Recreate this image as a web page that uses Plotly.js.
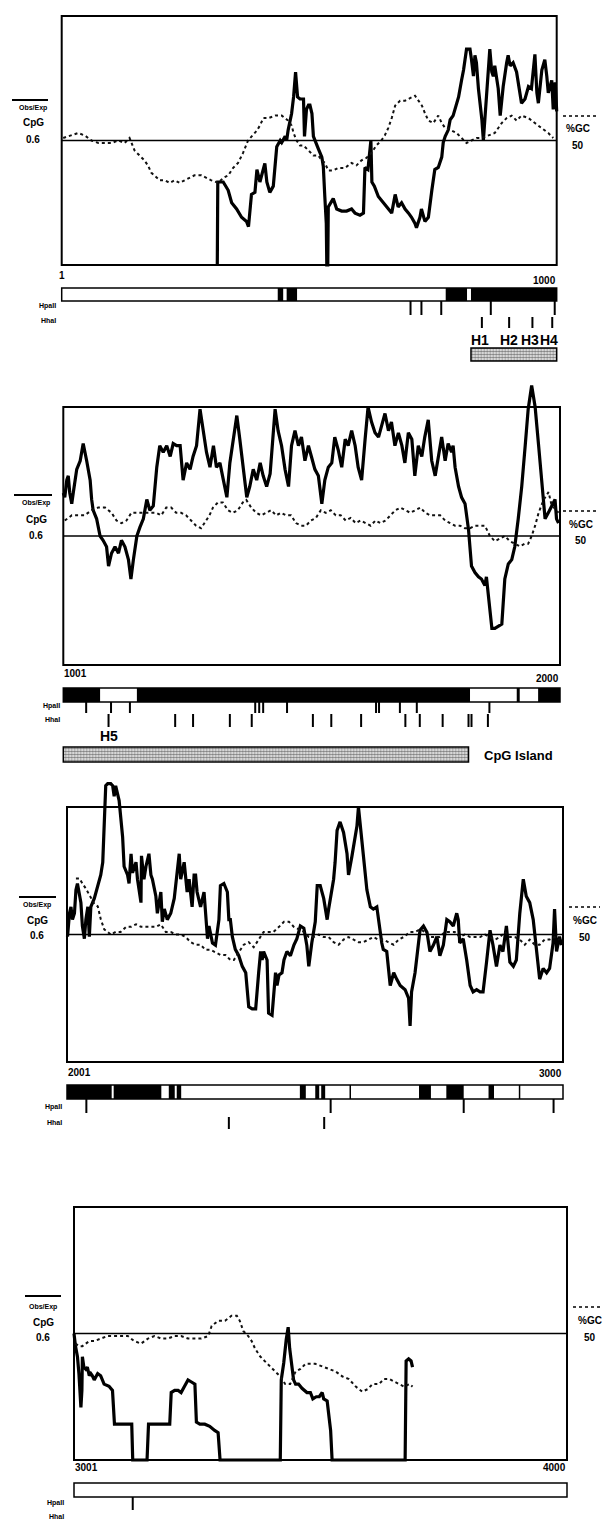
<!DOCTYPE html>
<html><head><meta charset="utf-8">
<script src="https://cdn.plot.ly/plotly-3.0.1.min.js"></script>
<style>html,body{margin:0;padding:0;background:#fff}#chart{width:604px;height:1520px}</style>
</head><body><div id="chart"></div>
<script>
// ---------------- DATA ----------------
// position ranges (bp) of the four panels
const panelStart = [1, 1001, 2001, 3001];
const panelEnd   = [1000, 2000, 3000, 4000];
const tickLeftText  = ['1', '1001', '2001', '3001'];
const tickRightText = ['1000', '2000', '3000', '4000'];

// Observed/Expected CpG  [position, ratio]
const cpg1 = [[315,0],[316,0.40],[327,0.40],[337,0.36],[344,0.30],[354,0.27],[364,0.23],[374,0.21],[378,0.185],[381,0.28],[384,0.34],[391,0.35],[395,0.46],[401,0.40],[408,0.47],[411,0.49],[415,0.40],[421,0.35],[428,0.38],[432,0.51],[435,0.57],[442,0.60],[445,0.59],[452,0.62],[455,0.60],[458,0.65],[465,0.73],[469,0.81],[473,0.93],[477,0.81],[482,0.80],[489,0.80],[491,0.62],[495,0.75],[499,0.77],[502,0.77],[506,0.73],[509,0.62],[512,0.60],[519,0.56],[526,0.52],[529,0.475],[532,0.33],[535,0.20],[536,0],[538,0],[539,0.28],[549,0.32],[556,0.27],[566,0.26],[576,0.26],[586,0.27],[593,0.25],[603,0.24],[610,0.25],[613,0.47],[619,0.46],[622,0.55],[625,0.60],[627,0.40],[632,0.38],[640,0.33],[650,0.30],[660,0.27],[667,0.25],[674,0.34],[680,0.28],[687,0.30],[694,0.27],[701,0.25],[707,0.23],[714,0.20],[717,0.18],[724,0.23],[727,0.27],[734,0.21],[741,0.23],[748,0.36],[751,0.40],[754,0.46],[761,0.47],[768,0.52],[771,0.59],[775,0.62],[781,0.65],[785,0.70],[791,0.72],[795,0.75],[802,0.81],[808,0.89],[812,0.94],[818,1.04],[825,1.04],[828,0.99],[832,0.91],[835,1.01],[838,0.975],[842,0.85],[849,0.70],[852,0.60],[855,0.70],[859,0.83],[862,0.94],[865,1.04],[869,0.93],[872,0.91],[875,0.96],[882,0.85],[886,0.72],[892,0.86],[899,0.975],[902,1.01],[906,0.96],[912,0.975],[919,0.93],[926,0.83],[929,0.78],[936,0.80],[943,0.86],[949,0.85],[956,1.015],[960,0.83],[963,0.78],[970,0.94],[976,0.99],[980,0.91],[983,0.83],[990,0.89],[993,0.75],[997,0.88],[1000,0.74]];

const cpg2 = [[1001,0.80],[1004,0.78],[1008,0.86],[1011,0.88],[1014,0.80],[1018,0.75],[1021,0.80],[1028,0.91],[1035,0.95],[1041,1.03],[1048,0.95],[1055,0.86],[1058,0.77],[1061,0.72],[1068,0.68],[1075,0.60],[1081,0.58],[1088,0.55],[1092,0.46],[1098,0.52],[1105,0.55],[1112,0.52],[1118,0.58],[1125,0.55],[1132,0.49],[1137,0.40],[1142,0.49],[1149,0.60],[1155,0.64],[1162,0.68],[1169,0.77],[1175,0.72],[1182,0.74],[1189,0.92],[1195,1.02],[1202,0.99],[1209,1.02],[1216,0.97],[1222,1.03],[1229,1.02],[1236,1.02],[1242,0.86],[1249,0.94],[1256,0.91],[1262,0.97],[1269,1.02],[1276,1.19],[1283,1.08],[1289,0.99],[1296,0.92],[1303,1.02],[1309,0.92],[1316,0.94],[1323,0.86],[1330,0.78],[1336,0.94],[1343,1.05],[1350,1.16],[1356,1.05],[1363,0.91],[1370,0.78],[1376,0.83],[1383,0.91],[1390,0.86],[1397,0.94],[1403,0.88],[1410,0.83],[1417,0.89],[1427,1.19],[1433,1.09],[1440,1.02],[1447,0.91],[1454,0.83],[1460,1.02],[1467,1.09],[1474,1.02],[1480,1.06],[1487,0.95],[1494,1.02],[1500,0.97],[1507,0.91],[1514,0.88],[1521,0.75],[1527,0.86],[1534,0.92],[1541,0.94],[1547,1.06],[1554,1.00],[1561,0.92],[1568,1.05],[1574,1.02],[1581,1.09],[1588,1.02],[1594,0.92],[1601,0.86],[1608,1.05],[1614,1.20],[1621,1.13],[1628,1.08],[1635,1.06],[1641,1.11],[1648,1.17],[1655,1.09],[1661,1.13],[1668,1.02],[1675,1.08],[1682,1.02],[1688,0.94],[1695,1.08],[1702,1.05],[1708,0.88],[1715,1.02],[1722,0.97],[1728,1.06],[1735,1.14],[1742,0.95],[1749,0.88],[1755,0.97],[1762,1.06],[1769,0.95],[1775,1.03],[1782,0.99],[1785,1.02],[1789,0.92],[1796,0.83],[1802,0.78],[1809,0.75],[1816,0.63],[1822,0.46],[1829,0.43],[1836,0.41],[1842,0.40],[1849,0.37],[1852,0.41],[1856,0.33],[1859,0.27],[1863,0.17],[1869,0.17],[1876,0.18],[1883,0.19],[1889,0.40],[1896,0.47],[1903,0.49],[1909,0.55],[1916,0.68],[1923,0.83],[1930,1.02],[1936,1.19],[1943,1.30],[1950,1.20],[1957,1.02],[1963,0.86],[1970,0.68],[1977,0.71],[1983,0.74],[1990,0.77],[1993,0.68],[1997,0.66]];

const cpg3 = [[2002,0.59],[2006,0.70],[2009,0.73],[2012,0.67],[2016,0.70],[2019,0.81],[2022,0.84],[2026,0.78],[2029,0.75],[2032,0.64],[2036,0.58],[2039,0.67],[2043,0.73],[2046,0.59],[2049,0.73],[2056,0.77],[2063,0.83],[2069,0.88],[2073,0.94],[2076,1.09],[2079,1.30],[2083,1.31],[2089,1.31],[2093,1.30],[2096,1.25],[2099,1.30],[2106,1.23],[2113,1.06],[2116,0.92],[2123,0.88],[2126,0.84],[2130,0.98],[2133,0.89],[2140,0.94],[2143,0.86],[2150,0.75],[2151,0.97],[2156,0.86],[2160,0.92],[2166,0.98],[2170,0.88],[2173,0.86],[2180,0.78],[2183,0.70],[2186,0.75],[2190,0.80],[2193,0.66],[2197,0.72],[2203,0.67],[2210,0.70],[2217,0.77],[2223,0.89],[2227,0.98],[2230,0.86],[2237,0.94],[2243,0.80],[2247,0.86],[2253,0.73],[2257,0.88],[2260,0.88],[2263,0.80],[2270,0.73],[2277,0.80],[2284,0.58],[2287,0.64],[2294,0.56],[2300,0.55],[2307,0.67],[2310,0.83],[2317,0.84],[2324,0.80],[2327,0.67],[2330,0.67],[2334,0.59],[2340,0.53],[2347,0.50],[2354,0.45],[2361,0.42],[2367,0.26],[2374,0.25],[2381,0.25],[2387,0.42],[2391,0.52],[2394,0.48],[2397,0.52],[2404,0.48],[2407,0.23],[2414,0.22],[2421,0.42],[2424,0.36],[2428,0.41],[2434,0.42],[2438,0.48],[2444,0.52],[2451,0.50],[2458,0.55],[2464,0.58],[2471,0.64],[2478,0.63],[2484,0.55],[2488,0.45],[2494,0.56],[2501,0.66],[2505,0.83],[2511,0.83],[2518,0.77],[2525,0.67],[2528,0.72],[2531,0.77],[2538,0.86],[2541,0.94],[2545,1.09],[2551,1.13],[2558,1.08],[2565,0.98],[2568,0.88],[2575,0.97],[2578,1.02],[2585,1.11],[2588,1.20],[2592,1.11],[2598,0.95],[2605,0.81],[2612,0.73],[2618,0.72],[2625,0.73],[2628,0.67],[2635,0.56],[2638,0.53],[2645,0.52],[2652,0.36],[2659,0.42],[2665,0.39],[2672,0.36],[2682,0.34],[2689,0.30],[2692,0.17],[2695,0.33],[2702,0.42],[2709,0.55],[2712,0.62],[2719,0.64],[2726,0.61],[2732,0.52],[2739,0.55],[2746,0.59],[2752,0.50],[2759,0.55],[2766,0.67],[2772,0.66],[2779,0.64],[2786,0.70],[2789,0.67],[2792,0.56],[2799,0.58],[2806,0.48],[2813,0.36],[2819,0.33],[2826,0.34],[2833,0.33],[2839,0.33],[2846,0.47],[2853,0.62],[2859,0.55],[2866,0.45],[2873,0.55],[2879,0.52],[2886,0.64],[2893,0.47],[2900,0.45],[2906,0.48],[2913,0.70],[2920,0.86],[2926,0.78],[2933,0.75],[2940,0.67],[2946,0.55],[2953,0.39],[2960,0.44],[2967,0.42],[2973,0.44],[2980,0.56],[2983,0.72],[2987,0.52],[2993,0.59],[2997,0.55]];

const cpg4 = [[3001,0.60],[3002,0.57],[3004,0.54],[3008,0.49],[3011,0.41],[3015,0.25],[3017,0.33],[3018,0.49],[3021,0.44],[3025,0.43],[3028,0.44],[3032,0.40],[3035,0.41],[3038,0.40],[3042,0.38],[3049,0.41],[3055,0.40],[3062,0.36],[3072,0.35],[3079,0.33],[3083,0.17],[3089,0.17],[3100,0.17],[3110,0.17],[3118,0.17],[3120,0],[3149,0],[3152,0.17],[3161,0.17],[3171,0.17],[3184,0.17],[3195,0.17],[3198,0.32],[3205,0.33],[3212,0.33],[3218,0.32],[3225,0.35],[3232,0.38],[3239,0.37],[3246,0.36],[3249,0.18],[3256,0.17],[3266,0.17],[3276,0.16],[3286,0.14],[3293,0.13],[3297,0],[3419,0],[3421,0.38],[3426,0.46],[3431,0.57],[3435,0.63],[3438,0.53],[3443,0.43],[3446,0.38],[3450,0.36],[3456,0.36],[3463,0.34],[3473,0.32],[3480,0.32],[3485,0.29],[3492,0.30],[3498,0.30],[3504,0.32],[3507,0.29],[3514,0.28],[3521,0.14],[3524,0],[3672,0],[3674,0.47],[3679,0.48],[3684,0.47],[3687,0.44]];

// %GC  [position, percent]
const gc1 = [[4,51],[21,52],[34,53],[48,52],[61,50],[75,49],[88,49],[102,49],[115,50],[128,49],[138,51],[148,46],[158,44],[168,42],[175,40],[182,37],[188,36],[199,34],[209,34],[219,33],[229,34],[239,33],[249,34],[259,35],[269,36],[283,36],[293,35],[303,34],[317,33],[327,35],[337,36],[347,39],[357,41],[367,45],[377,50],[387,52],[395,54],[401,56],[408,59],[418,59],[432,60],[445,60],[458,58],[465,56],[469,53],[475,50],[482,48],[489,48],[499,46],[509,44],[519,44],[526,42],[532,41],[539,38],[549,38],[559,39],[573,39],[586,41],[596,40],[606,42],[616,43],[626,45],[636,48],[646,50],[653,52],[660,55],[667,59],[674,64],[684,66],[694,66],[704,67],[714,68],[721,66],[728,64],[734,61],[741,58],[751,57],[761,60],[768,57],[775,55],[781,55],[788,54],[798,53],[808,51],[818,49],[828,50],[838,51],[849,51],[862,52],[875,53],[889,57],[899,59],[909,60],[919,58],[929,60],[943,59],[956,57],[970,55],[983,53],[993,51]];

const gc2 = [[1004,56],[1018,58],[1031,58],[1044,58],[1058,60],[1071,61],[1085,61],[1098,59],[1108,56],[1118,55],[1128,56],[1138,59],[1148,59],[1158,59],[1168,59],[1178,59],[1188,59],[1198,58],[1208,61],[1218,61],[1228,59],[1238,59],[1248,58],[1258,56],[1268,54],[1278,53],[1288,56],[1295,58],[1302,61],[1312,63],[1322,63],[1332,60],[1342,59],[1352,60],[1362,63],[1369,64],[1379,61],[1389,59],[1399,58],[1409,59],[1419,60],[1429,58],[1439,59],[1449,58],[1459,58],[1469,55],[1479,54],[1489,54],[1499,56],[1509,57],[1519,60],[1529,59],[1539,60],[1549,58],[1559,58],[1569,56],[1579,57],[1589,55],[1599,56],[1609,55],[1619,54],[1629,56],[1639,55],[1649,56],[1659,58],[1669,60],[1679,61],[1689,60],[1699,59],[1709,60],[1719,61],[1729,59],[1739,58],[1749,58],[1759,58],[1769,56],[1779,55],[1789,54],[1799,54],[1809,53],[1819,53],[1829,54],[1839,54],[1849,54],[1859,50],[1869,48],[1879,49],[1889,50],[1899,48],[1909,47],[1919,46],[1929,47],[1936,47],[1943,50],[1950,54],[1957,59],[1967,64],[1977,67],[1983,62],[1997,59]];

const gc3 = [[2019,72],[2026,72],[2032,70],[2039,68],[2056,62],[2063,61],[2069,56],[2076,52],[2083,51],[2089,50],[2099,51],[2109,51],[2120,53],[2130,53],[2140,54],[2150,53],[2160,53],[2170,53],[2180,53],[2190,54],[2200,51],[2210,51],[2220,50],[2230,50],[2240,49],[2250,47],[2260,46],[2270,46],[2280,44],[2290,44],[2300,43],[2310,42],[2320,42],[2330,40],[2337,40],[2347,43],[2357,46],[2367,47],[2377,45],[2387,48],[2397,51],[2407,51],[2417,51],[2428,53],[2438,55],[2448,55],[2458,53],[2468,52],[2478,51],[2488,49],[2498,49],[2508,50],[2518,49],[2528,49],[2538,47],[2548,46],[2558,48],[2568,49],[2578,48],[2588,47],[2598,47],[2608,48],[2618,49],[2628,48],[2638,48],[2648,47],[2659,46],[2669,48],[2679,49],[2692,51],[2702,51],[2712,52],[2722,51],[2732,49],[2742,49],[2752,49],[2762,51],[2772,51],[2782,51],[2792,49],[2802,50],[2813,49],[2823,49],[2833,49],[2843,50],[2853,49],[2863,48],[2873,49],[2883,51],[2893,49],[2903,49],[2913,48],[2923,46],[2933,48],[2943,46],[2953,46],[2963,48],[2973,48],[2983,49],[2993,48]];

const gc4 = [[3004,46],[3011,45],[3018,45],[3025,46],[3032,47],[3042,47],[3055,48],[3069,49],[3083,49],[3096,49],[3110,49],[3123,47],[3137,46],[3151,48],[3164,49],[3178,48],[3191,48],[3205,49],[3218,49],[3232,48],[3246,48],[3259,48],[3273,49],[3280,53],[3293,55],[3307,55],[3320,57],[3331,57],[3337,55],[3344,51],[3354,49],[3361,47],[3368,44],[3378,41],[3388,39],[3399,37],[3409,35],[3419,33],[3429,30],[3439,30],[3450,35],[3460,36],[3470,38],[3480,38],[3490,38],[3504,37],[3518,36],[3531,35],[3545,33],[3558,32],[3572,29],[3585,27],[3596,28],[3606,30],[3619,30],[3629,32],[3640,32],[3650,31],[3660,30],[3670,29],[3681,30],[3687,29]];

// map: dark blocks [start,end], HpaII and HhaI sites
const blocks1 = [[437,448],[455,476],[776,819],[827,1000]];
const blocks2 = [[1001,1075],[1149,1819],[1913,1919],[1956,2000]];
const blocks3 = [[2001,2091],[2095,2191],[2206,2218],[2222,2231],[2470,2482],[2501,2509],[2513,2521],[2570,2573],[2710,2734],[2765,2800],[2850,2861],[2911,2914]];
const blocks4 = [];
const hpa1 = [705,727,767,867,996];
const hpa2 = [1047,1097,1135,1387,1395,1403,1451,1630,1636,1678,1712,1858];
const hpa3 = [2040,2532,2800,2981];
const hpa4 = [3120];
const hha1 = [849,904,951,991];
const hha2 = [1092,1226,1262,1336,1380,1503,1540,1600,1689,1718,1764,1816,1822,1855];
const hha3 = [2327,2519];
const hha4 = [];
// labelled sites
const siteLabels1 = ['H1','H2','H3','H4'];
const siteLabelPos1 = [845,903,946,985];
const siteLabels2 = ['H5'];
const siteLabelPos2 = [1092];
// CpG island extents
const island1 = [827,1000];
const island2 = [1001,1816];
const islandLabel = 'CpG Island';

// ---------------- LAYOUT ----------------
const W = 604, H = 1520;
const FONT = 'Liberation Sans, Arial, sans-serif';
const geom = [
  {L:61.7, R:556.7, T:16,   B:265},
  {L:63.3, R:560,   T:407,  B:665},
  {L:67,   R:563,   T:807,  B:1062},
  {L:74,   R:567,   T:1207, B:1460}
];
const tracks = [
  {top:284, bot:366, bar:[288,301], hpa:[301,315], hha:[317,328], lab:[306,320], labX:57, hl:340, isl:[348,361], tl:[275,280]},
  {top:684, bot:766, bar:[688,702], hpa:[702,713], hha:[714,727], lab:[706,720], labX:61, hl:736, isl:[747,762], tl:[673,678]},
  {top:1082,bot:1134,bar:[1085,1099],hpa:[1099,1113],hha:[1117,1129],lab:[1107,1122],labX:63, tl:[1072,1073]},
  {top:1480,bot:1520,bar:[1483,1497],hpa:[1497,1510],hha:[1510,1520],lab:[1503,1516],labX:65, tl:[1467,1467]}
];
const keys = [
  {ol:[12,48,100], ob:108, cpg:123, v:140, cx:33, dl:[563,596,116], gc:128, fifty:145, rx:578},
  {ol:[14,52,495], ob:503, cpg:520, v:535, cx:36, dl:[563,598,511], gc:524, fifty:540, rx:581},
  {ol:[19,56,897], ob:905, cpg:920, v:935, cx:37, dl:[569,600,907], gc:920, fifty:937, rx:585},
  {ol:[25,61,1296],ob:1307,cpg:1322,v:1337, cx:43, dl:[573,602,1307],gc:1320,fifty:1337,rx:590}
];
const cpgSeries = [cpg1,cpg2,cpg3,cpg4];
const gcSeries = [gc1,gc2,gc3,gc4];
const blockSets = [blocks1,blocks2,blocks3,blocks4];
const hpaSets = [hpa1,hpa2,hpa3,hpa4];
const hhaSets = [hha1,hha2,hha3,hha4];

const py = p => 1 - p / H;
const px = p => p / W;
const layout = {
  width: W, height: H, margin: {l:0,r:0,t:0,b:0},
  paper_bgcolor: '#fff', plot_bgcolor: 'rgba(0,0,0,0)',
  showlegend: false, shapes: [], annotations: [],
  font: {family: FONT, color: '#000'}
};
const traces = [];
const OBS_MAX = 1.2;

function txt(x, y, text, size, xanchor, xref) {
  layout.annotations.push({x: x, y: y, xref: xref || 'paper', yref: 'paper', text: '<b>' + text + '</b>',
    showarrow: false, xanchor: xanchor || 'center', yanchor: 'middle',
    font: {family: FONT, size: size, color: '#000'}, borderpad: 0});
}

for (let i = 0; i < 4; i++) {
  const g = geom[i], t = tracks[i], k = keys[i];
  const xs = panelStart[i], xe = panelEnd[i];
  const xid = i ? 'x' + (i + 1) : 'x';
  const yid = i ? 'y' + (i + 1) : 'y';
  const gid = 'y' + (i + 5), tid = 'y' + (i + 9);
  const bpPerPx = (xe - xs) / (g.R - g.L);
  const padL = 8, padR = 12;
  layout[i ? 'xaxis' + (i + 1) : 'xaxis'] = {
    domain: [px(g.L - padL), px(g.R + padR)],
    range: [xs - padL * bpPerPx, xe + padR * bpPerPx],
    visible: false, fixedrange: true, anchor: yid
  };
  const u = OBS_MAX / (g.B - g.T);
  const topPx = Math.max(0, g.T - 30), botPx = g.B + 4;
  const r0 = -(botPx - g.B) * u, r1 = OBS_MAX + (g.T - topPx) * u;
  layout[i ? 'yaxis' + (i + 1) : 'yaxis'] = {
    domain: [py(botPx), py(topPx)], range: [r0, r1], visible: false, fixedrange: true, anchor: xid
  };
  layout['yaxis' + (i + 5)] = {
    overlaying: yid, range: [r0 * 100 / OBS_MAX, r1 * 100 / OBS_MAX], visible: false, fixedrange: true, anchor: xid
  };
  layout['yaxis' + (i + 9)] = {
    domain: [py(t.bot), py(t.top)], range: [t.bot, t.top], visible: false, fixedrange: true, anchor: xid
  };

  // curves
  traces.push({type:'scatter', mode:'lines', x: gcSeries[i].map(d=>d[0]), y: gcSeries[i].map(d=>d[1]),
    xaxis: xid, yaxis: gid, line:{color:'#111', width:2, dash:'dot'}, hoverinfo:'skip'});
  traces.push({type:'scatter', mode:'lines', x: cpgSeries[i].map(d=>d[0]), y: cpgSeries[i].map(d=>d[1]),
    xaxis: xid, yaxis: yid, line:{color:'#000', width:3.2}, hoverinfo:'skip'});
  // dummy trace for track subplot
  traces.push({type:'scatter', mode:'markers', x:[xs], y:[t.bar[0]], xaxis: xid, yaxis: tid,
    marker:{opacity:0, size:1}, hoverinfo:'skip'});

  // frame and 0.6 / 50% baseline
  layout.shapes.push({type:'rect', xref:xid, yref:yid, x0:xs, x1:xe, y0:0, y1:OBS_MAX,
    line:{color:'#000', width:2}, fillcolor:'rgba(0,0,0,0)'});
  layout.shapes.push({type:'line', xref:xid, yref:yid, x0:xs, x1:xe, y0:OBS_MAX/2, y1:OBS_MAX/2,
    line:{color:'#000', width:1.3}});

  // map bar
  layout.shapes.push({type:'rect', xref:xid, yref:tid, x0:xs, x1:xe, y0:t.bar[0], y1:t.bar[1],
    line:{color:'#000', width:1.5}, fillcolor:'#fff'});
  blockSets[i].forEach(b => layout.shapes.push({type:'rect', xref:xid, yref:tid, x0:b[0], x1:b[1],
    y0:t.bar[0], y1:t.bar[1], line:{width:0}, fillcolor:'#000'}));
  hpaSets[i].forEach(p => layout.shapes.push({type:'line', xref:xid, yref:tid, x0:p, x1:p,
    y0:t.hpa[0], y1:t.hpa[1], line:{color:'#000', width:2}}));
  hhaSets[i].forEach(p => layout.shapes.push({type:'line', xref:xid, yref:tid, x0:p, x1:p,
    y0:t.hha[0], y1:t.hha[1], line:{color:'#000', width:2}}));

  // tick labels
  txt(xs, py(t.tl[0]), tickLeftText[i], 10, i === 0 ? 'center' : 'left', xid);
  txt(xe, py(t.tl[1]), tickRightText[i], 10, 'right', xid);
  // enzyme labels
  txt(px(t.labX), py(t.lab[0]), 'HpaII', 7, 'right');
  txt(px(t.labX), py(t.lab[1]), 'HhaI', 7, 'right');

  // keys
  layout.shapes.push({type:'line', xref:'paper', yref:'paper', x0:px(k.ol[0]), x1:px(k.ol[1]),
    y0:py(k.ol[2]), y1:py(k.ol[2]), line:{color:'#000', width:2}});
  txt(px(k.cx), py(k.ob), 'Obs/Exp', 7);
  txt(px(k.cx), py(k.cpg), 'CpG', 10);
  txt(px(k.cx), py(k.v), '0.6', 10);
  layout.shapes.push({type:'line', xref:'paper', yref:'paper', x0:px(k.dl[0]), x1:px(k.dl[1]),
    y0:py(k.dl[2]), y1:py(k.dl[2]), line:{color:'#000', width:1.5, dash:'dot'}});
  txt(px(k.rx), py(k.gc), '%GC', 10);
  txt(px(k.rx), py(k.fifty), '50', 10);
}

// site labels
siteLabels1.forEach((s, j) => txt(siteLabelPos1[j], py(tracks[0].hl), s, 14, 'center', 'x'));
siteLabels2.forEach((s, j) => txt(siteLabelPos2[j], py(tracks[1].hl), s, 14, 'center', 'x2'));

// CpG islands (patterned bars)
[[island1, 'x', 'y9', tracks[0]], [island2, 'x2', 'y10', tracks[1]]].forEach(d => {
  const isl = d[0], t = d[3];
  traces.push({type:'bar', orientation:'h', x:[isl[1] - isl[0]], base:[isl[0]], y:[(t.isl[0] + t.isl[1]) / 2],
    width:[t.isl[1] - t.isl[0]], xaxis:d[1], yaxis:d[2], hoverinfo:'skip',
    marker:{color:'#fff', line:{color:'#000', width:1.5},
      pattern:{shape:'.', size:3, solidity:0.6, fgcolor:'#000', bgcolor:'#fff', fillmode:'overlay'}}});
});
txt(px(483), py(755), islandLabel, 13, 'left');

Plotly.newPlot('chart', traces, layout, {displayModeBar:false, staticPlot:true});
</script></body></html>
